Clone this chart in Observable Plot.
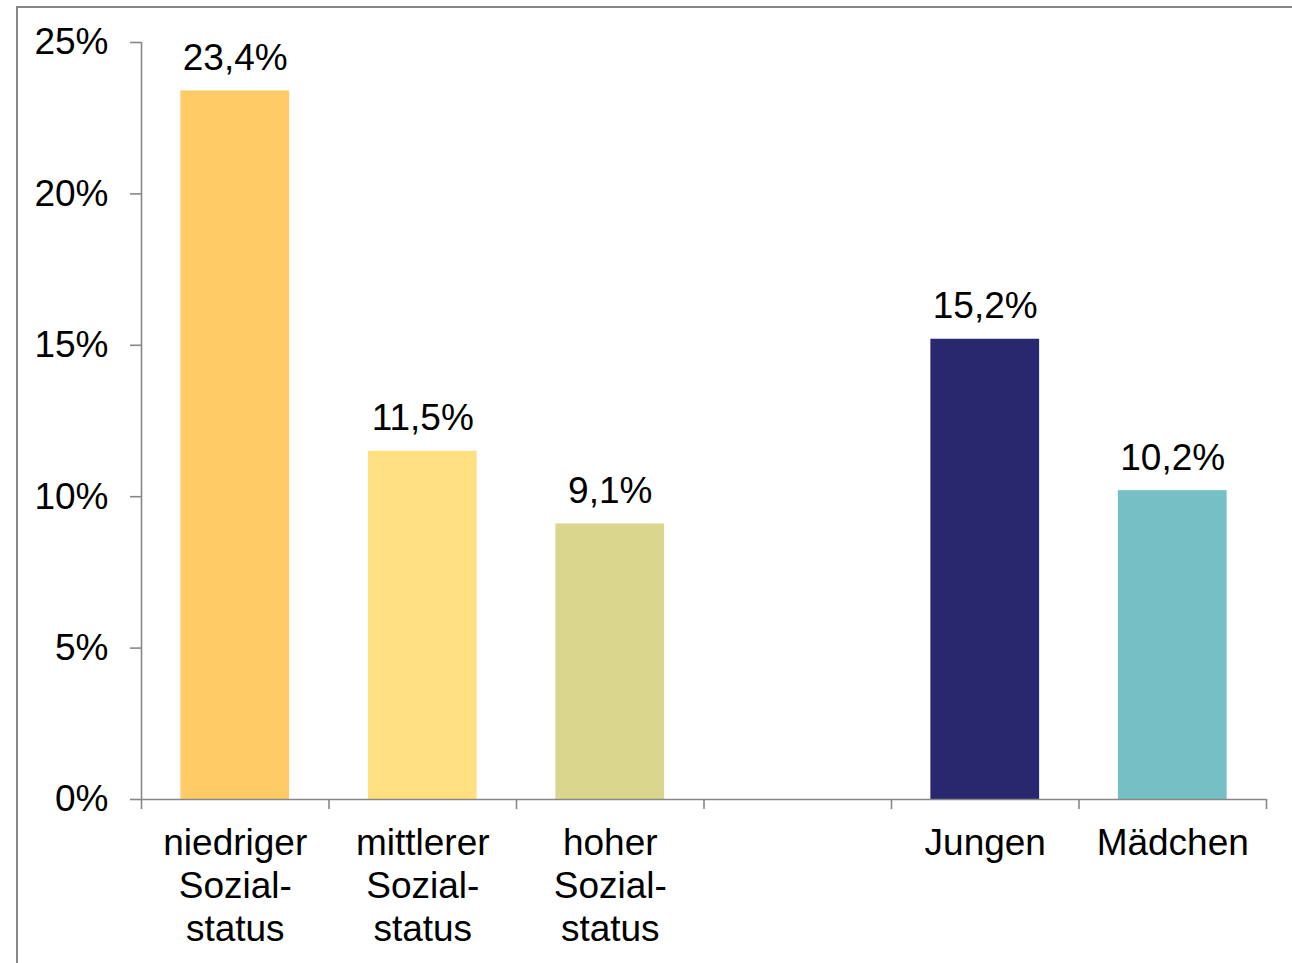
<!DOCTYPE html>
<html>
<head>
<meta charset="utf-8">
<script src="https://cdn.jsdelivr.net/npm/d3@7"></script>
<script src="https://cdn.jsdelivr.net/npm/@observablehq/plot@0.6"></script>
<style>
  html, body { margin: 0; padding: 0; background: #fff; }
  body { width: 1292px; height: 963px; overflow: hidden; position: relative; font-family: "Liberation Sans", Arial, sans-serif; }
  #frame { position: absolute; left: 16px; top: 6px; width: 1300px; height: 1000px; border-top: 2px solid #878787; border-left: 2px solid #878787; box-sizing: border-box; }
  #chart { position: absolute; left: 0; top: 0; }
</style>
</head>
<body>
<div id="frame"></div>
<div id="chart"></div>
<script>
const categories = ["niedriger\nSozial-\nstatus", "mittlerer\nSozial-\nstatus", "hoher\nSozial-\nstatus", "", "Jungen", "Mädchen"];
const values = [23.4, 11.5, 9.1, null, 15.2, 10.2];
const valueLabels = ["23,4%", "11,5%", "9,1%", "", "15,2%", "10,2%"];
const colors = ["#FFCB66", "#FFDF7F", "#DAD68E", "#ffffff", "#29286F", "#74C0C4"];
const yTicks = [0, 5, 10, 15, 20, 25];

const data = categories.map((c, i) => ({i, label: c, value: values[i], text: valueLabels[i], color: colors[i]}))
const bars = data.filter(d => d.value != null);
const pad = 0.21;
const axisColor = "#878787";
const font = "Liberation Sans, Arial, sans-serif";

const chart = Plot.plot({
  width: 1292,
  height: 963,
  marginLeft: 141,
  marginRight: 26,
  marginTop: 42,
  marginBottom: 164,
  style: {fontFamily: font, background: "transparent", color: "#000"},
  x: {domain: [0, categories.length], axis: null},
  y: {domain: [0, 25], axis: null},
  marks: [
    Plot.rectY(bars, {x1: d => d.i + pad, x2: d => d.i + 1 - pad, y: "value", fill: "color"}),
    Plot.ruleX([0], {y1: 0, y2: 25, stroke: axisColor, strokeWidth: 1.6}),
    Plot.ruleY([0], {stroke: axisColor, strokeWidth: 1.6}),
    Plot.axisY({ticks: yTicks, tickFormat: d => d + "%", label: null, tickSize: 11, tickPadding: 22, fontSize: 37, stroke: axisColor, strokeWidth: 1.6, fill: "#000"}),
    Plot.axisX({ticks: d3.range(0, categories.length + 1), tickFormat: () => "", label: null, tickSize: 10, stroke: axisColor, strokeWidth: 1.6}),
    Plot.text(data, {x: d => d.i + 0.5, text: "label", frameAnchor: "bottom", lineAnchor: "top", dy: 25, fontSize: 37, lineHeight: 1.16, fill: "#000"}),
    Plot.text(bars, {x: d => d.i + 0.5, y: "value", text: "text", lineAnchor: "bottom", dy: -21, fontSize: 37, fill: "#000"})
  ]
});
document.getElementById("chart").appendChild(chart);
</script>
</body>
</html>
